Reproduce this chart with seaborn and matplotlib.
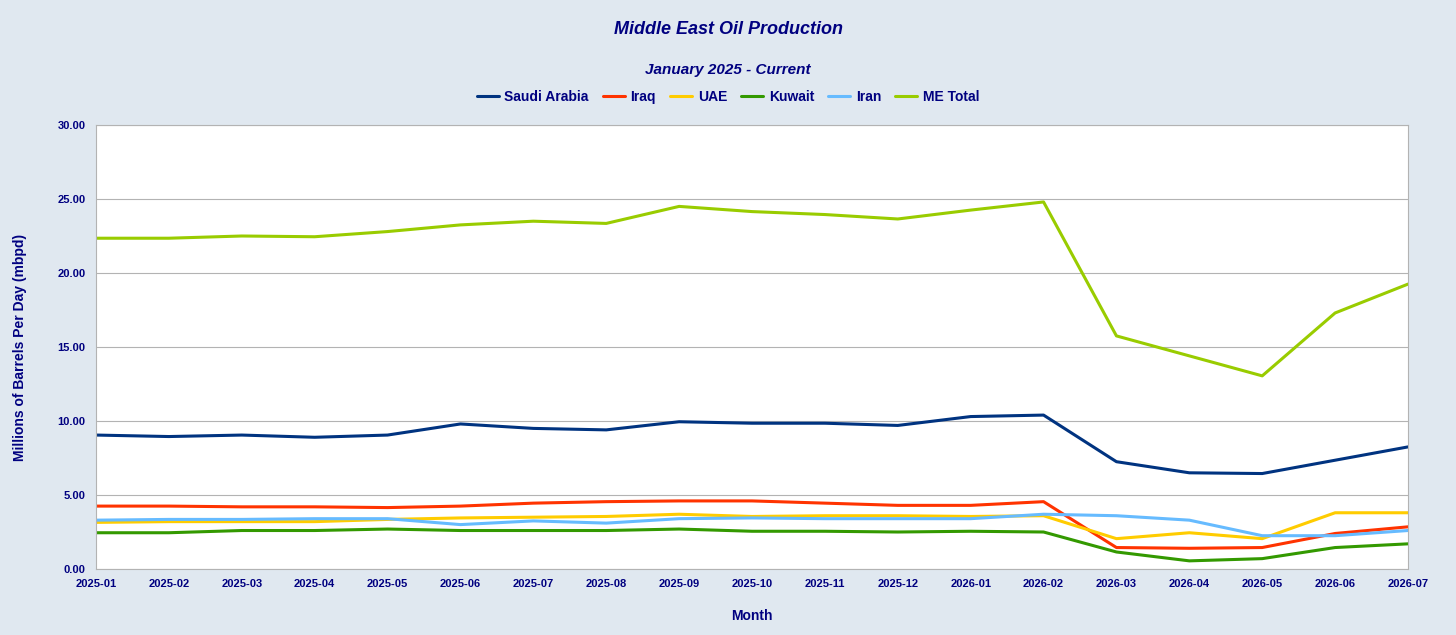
import matplotlib
matplotlib.use("Agg")
import matplotlib.pyplot as plt
import seaborn as sns
import pandas as pd

months = ["2025-01","2025-02","2025-03","2025-04","2025-05","2025-06","2025-07","2025-08","2025-09","2025-10",
          "2025-11","2025-12","2026-01","2026-02","2026-03","2026-04","2026-05","2026-06","2026-07"]
saudi = [9.05,8.95,9.05,8.9,9.05,9.8,9.5,9.4,9.95,9.85,9.85,9.7,10.3,10.4,7.25,6.5,6.45,7.35,8.25]
iraq = [4.25,4.25,4.2,4.2,4.15,4.25,4.45,4.55,4.6,4.6,4.45,4.3,4.3,4.55,1.45,1.4,1.45,2.4,2.85]
uae = [3.15,3.2,3.2,3.2,3.35,3.45,3.5,3.55,3.7,3.55,3.6,3.6,3.55,3.6,2.05,2.45,2.05,3.8,3.8]
kuwait = [2.45,2.45,2.6,2.6,2.7,2.6,2.6,2.6,2.7,2.55,2.55,2.5,2.55,2.5,1.15,0.55,0.7,1.45,1.7]
iran = [3.3,3.35,3.35,3.4,3.4,3.0,3.25,3.1,3.4,3.45,3.4,3.4,3.4,3.7,3.6,3.3,2.25,2.25,2.6]
me_total = [22.35,22.35,22.5,22.45,22.8,23.25,23.5,23.35,24.5,24.15,23.95,23.65,24.25,24.8,15.75,14.4,13.05,17.3,19.25]

series = {"Saudi Arabia": saudi, "Iraq": iraq, "UAE": uae, "Kuwait": kuwait, "Iran": iran, "ME Total": me_total}
colors = {"Saudi Arabia": "#003380", "Iraq": "#ff3300", "UAE": "#ffcc00", "Kuwait": "#339900",
          "Iran": "#66bbff", "ME Total": "#99cc00"}
rows = []
for name, vals in series.items():
    for i, (m, v) in enumerate(zip(months, vals)):
        rows.append({"idx": i, "Month": m, "Country": name, "Value": v})
df = pd.DataFrame(rows)

sns.set_style("white")
plt.rcParams['font.family'] = ['Liberation Sans', 'DejaVu Sans']
bg = "#e0e8f0"
navy = "#000080"
fig = plt.figure(figsize=(14.56, 6.35), dpi=100, facecolor=bg)
ax = fig.add_axes([96/1456, 1-569/635, (1408-96)/1456, (569-125)/635])
ax.set_facecolor("white")
sns.lineplot(data=df, x="idx", y="Value", hue="Country", palette=colors, linewidth=2.2, ax=ax, legend=False)
ax.set_xlim(0, len(months)-1)
ax.set_ylim(0, 30)
ax.set_xticks(range(len(months)))
ax.set_xticklabels(months)
ax.set_yticks(range(0, 31, 5))
ax.set_yticklabels([f"{v:.2f}" for v in range(0, 31, 5)])
ax.tick_params(axis="both", labelsize=8, labelcolor=navy, length=4, color="#b3b3b3", direction="out")
for t in ax.get_xticklabels() + ax.get_yticklabels():
    t.set_fontweight("bold")
ax.grid(axis="y", color="#b3b3b3", linewidth=0.8)
for s in ax.spines.values():
    s.set_color("#b3b3b3")
ax.set_xlabel("Month", fontsize=10, fontweight="bold", color=navy, labelpad=14)
ax.set_ylabel("Millions of Barrels Per Day (mbpd)", fontsize=10, fontweight="bold", color=navy, labelpad=22)

fig.text(0.5, 1-30/635, "Middle East Oil Production", ha="center", va="center", fontsize=13,
         fontweight="bold", fontstyle="italic", color=navy)
fig.text(0.5, 1-70/635, "January 2025 - Current", ha="center", va="center", fontsize=11,
         fontweight="bold", fontstyle="italic", color=navy)
handles = [plt.Line2D([], [], color=colors[n], linewidth=2.2) for n in series]
leg = fig.legend(handles, list(series), loc="center", bbox_to_anchor=(0.5, 1-97/635), ncol=6, frameon=False,
                 handlelength=1.6, columnspacing=1.0, handletextpad=0.4,
                 prop={"weight": "bold", "size": 10})
for t in leg.get_texts():
    t.set_color(navy)
fig.savefig("out.png", dpi=100, facecolor=bg)
